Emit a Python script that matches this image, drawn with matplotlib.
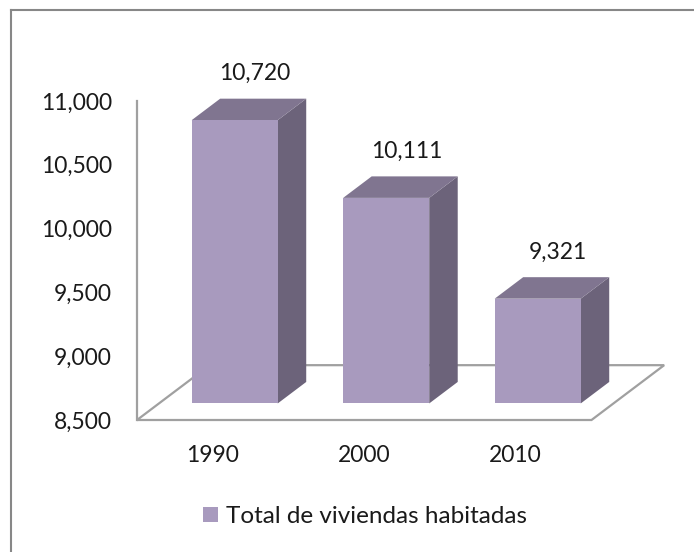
import matplotlib
matplotlib.use("Agg")
import matplotlib.pyplot as plt
from matplotlib.patches import Polygon, Patch
from matplotlib.lines import Line2D

# Data
years = ["1990", "2000", "2010"]
viviendas = [10720, 10111, 9321]
y_ticks = [8500, 9000, 9500, 10000, 10500, 11000]
series_name = "Total de viviendas habitadas"

# Colours (Excel 3D purple)
c_front = "#A89ABE"
c_top = "#807590"
c_side = "#6C637A"
c_grid = "#A0A0A0"
c_text = "#1A1A1A"

plt.rcParams["font.family"] = ["Lato", "DejaVu Sans"]
fs = 16.5

# Oblique projection: one depth unit shifts by (DX, DY) in data units
ymin, ymax = 8500, 11000
DX = 28.5 / 151.5
DY = 21.5 * (ymax - ymin) / 319.0
bar_w = 0.568
bar_depth = 0.77      # bar front plane
floor_depth = 2.55    # back edge of floor

fig = plt.figure(figsize=(6.94, 5.52), dpi=100)
ax = fig.add_axes([137 / 694, 132 / 552, 454.5 / 694, 319 / 552])
ax.set_xlim(-0.5, 2.5)
ax.set_ylim(ymin, ymax)
for s in ax.spines.values():
    s.set_visible(False)


def P(x, v, d):
    return (x + d * DX, v + d * DY)


# floor
floor = Polygon([P(-0.5, ymin, 0), P(2.5, ymin, 0), P(2.5, ymin, floor_depth),
                 P(-0.5, ymin, floor_depth)], closed=True, fill=False,
                edgecolor=c_grid, lw=1.6, zorder=1, clip_on=False)
ax.add_patch(floor)
# vertical axis line
ax.plot([-0.5, -0.5], [ymin, ymax], color=c_grid, lw=1.6, zorder=1, clip_on=False)

# bars
for i, v in enumerate(viviendas):
    x0 = i - bar_w / 2
    x1 = i + bar_w / 2
    d0 = bar_depth
    d1 = bar_depth + 1
    front = [P(x0, ymin, d0), P(x1, ymin, d0), P(x1, v, d0), P(x0, v, d0)]
    top = [P(x0, v, d0), P(x1, v, d0), P(x1, v, d1), P(x0, v, d1)]
    side = [P(x1, ymin, d0), P(x1, ymin, d1), P(x1, v, d1), P(x1, v, d0)]
    ax.add_patch(Polygon(side, closed=True, facecolor=c_side, edgecolor="none",
                         zorder=3, clip_on=False))
    ax.add_patch(Polygon(top, closed=True, facecolor=c_top, edgecolor="none",
                         zorder=3, clip_on=False))
    ax.add_patch(Polygon(front, closed=True, facecolor=c_front, edgecolor="none",
                         zorder=4, clip_on=False))
    ax.annotate(f"{v:,}", xy=P(i, v, d1), xytext=(-6, 18),
                textcoords="offset points", ha="center", va="center",
                fontsize=fs, color=c_text, annotation_clip=False)

ax.set_yticks(y_ticks)
ax.set_yticklabels([f"{t:,}" for t in y_ticks])
ax.set_xticks(range(len(years)))
ax.set_xticklabels(years)
ax.tick_params(axis="y", length=0, pad=18, labelsize=fs, labelcolor=c_text)
ax.tick_params(axis="x", length=0, pad=18, labelsize=fs, labelcolor=c_text)

fig.legend(handles=[Patch(facecolor=c_front, edgecolor="none", label=series_name)],
           loc="center", bbox_to_anchor=(0.526, 0.064), frameon=False,
           fontsize=17.5, handlelength=0.6, handleheight=0.6, handletextpad=0.35,
           labelcolor=c_text)

# chart border (top and left visible)
fig.add_artist(Line2D([11 / 694, 11 / 694], [0, 1 - 9.5 / 552], color="#878787", lw=1.5,
                      transform=fig.transFigure))
fig.add_artist(Line2D([11 / 694, 1], [1 - 9.5 / 552, 1 - 9.5 / 552], color="#878787", lw=1.5,
                      transform=fig.transFigure))

fig.savefig("out.png", dpi=100)
